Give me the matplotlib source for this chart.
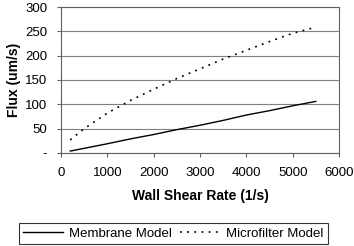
import matplotlib
matplotlib.use("Agg")
import matplotlib.pyplot as plt

plt.rcParams['font.family'] = ['Liberation Sans', 'DejaVu Sans']

membrane_x = [200, 1000, 1500, 2000, 2500, 3000, 3500, 4000, 4500, 5000, 5500]
membrane_y = [4, 19, 29, 38, 48, 57, 67, 78, 87, 97, 106]
micro_x = [200, 500, 1000, 1500, 2000, 2500, 3000, 3500, 4000, 4500, 5000, 5400]
micro_y = [27, 50, 82, 108, 131, 153, 173, 193, 211, 229, 246, 256]
yticks = [0, 50, 100, 150, 200, 250, 300]
ytick_labels = ['-', '50', '100', '150', '200', '250', '300']
xticks = [0, 1000, 2000, 3000, 4000, 5000, 6000]

fig = plt.figure(figsize=(3.54, 2.46), dpi=100)
ax = fig.add_axes([61/354, 1-153/246, 278/354, 146/246])
ax.plot(membrane_x, membrane_y, color='black', lw=1.0, label='Membrane Model')
ax.plot(micro_x, micro_y, color='black', lw=1.2, linestyle=(0, (1.1, 3.2)), label='Microfilter Model')
ax.set_xlim(0, 6000)
ax.set_ylim(0, 300)
ax.set_yticks(yticks)
ax.set_yticklabels(ytick_labels, fontsize=9.5)
ax.set_xticks(xticks)
ax.set_xticklabels([str(v) for v in xticks], fontsize=9.5)
ax.grid(axis='y', color='#808080', lw=0.8)
ax.set_axisbelow(True)
for s in ax.spines.values():
    s.set_color('#606060')
    s.set_linewidth(0.8)
ax.tick_params(axis='x', direction='out', length=3, width=0.8, color='#606060', pad=7)
ax.tick_params(axis='y', direction='out', length=3, width=0.8, color='#606060', pad=7)
ax.set_xlabel('Wall Shear Rate (1/s)', fontsize=10, fontweight='bold', labelpad=7)
ax.set_ylabel('Flux (um/s)', fontsize=10, fontweight='bold', labelpad=3)
leg = fig.legend(loc='center', bbox_to_anchor=(173.5/354, 1-233.5/246), ncol=2, fontsize=9.5,
                 frameon=True, fancybox=False, edgecolor='black', handlelength=3.0,
                 columnspacing=0.6, handletextpad=0.5, borderpad=0.35)
leg.get_frame().set_linewidth(0.8)
fig.savefig('out.png', dpi=100)
